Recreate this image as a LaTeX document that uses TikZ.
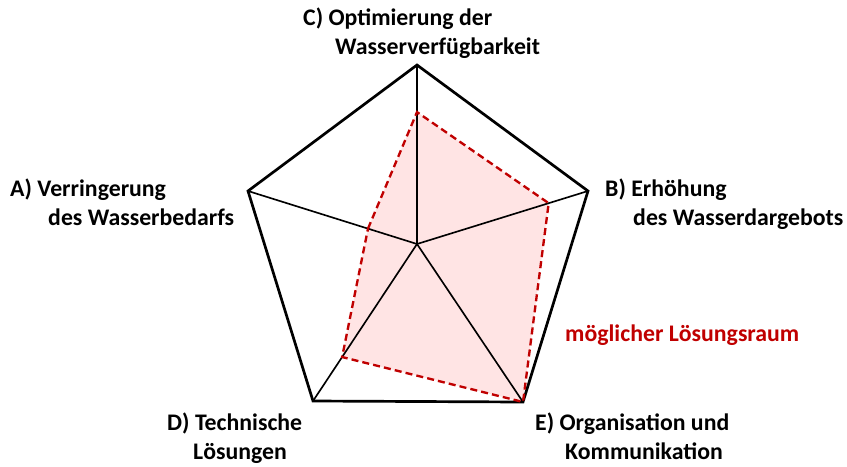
\documentclass[tikz,border=0pt]{standalone}
\usepackage{fontspec}
\setmainfont{Carlito}
\usepackage{xcolor}
\usetikzlibrary{calc}
\definecolor{dunkelrot}{RGB}{192,0,0}
\definecolor{rosa}{RGB}{255,228,228}
\tikzset{
    achse/.style={line width=1.4pt},
    rahmen/.style={line width=2.3pt, line join=miter},
    raum/.style={draw=dunkelrot, fill=rosa, line width=2pt, dash pattern=on 6pt off 3.5pt},
    beschr/.style={anchor=base west, inner sep=0pt, align=left, font=\fontsize{20.3}{24}\selectfont\bfseries}
}
% #1 Kennbuchstabe, #2 erste Zeile, #3 zweite Zeile, #4 Einzug in px
\newcommand{\zweizeilig}[4]{#1\ #2\\\hspace*{#4\dimexpr0.03cm\relax}#3}

\begin{document}
\begin{tikzpicture}[x=0.03cm, y=-0.03cm]
\useasboundingbox (0,0) rectangle (847,466);
\coordinate (M) at (417,244);
\foreach \x/\y/\p in {248/191/A, 588/191/B, 417/65/C, 313/401/D, 523/402/E}{
    \coordinate (\p) at (\x,\y);
}
% Loesungsraum
\coordinate (a) at ($(M)!0.29!(A)$);
\coordinate (b) at ($(M)!0.77!(B)$);
\coordinate (c) at ($(M)!0.737!(C)$);
\coordinate (d) at ($(M)!0.72!(D)$);
\coordinate (e) at (E);
\fill[rosa] (a)--(c)--(b)--(e)--(d)--cycle;
\foreach \p in {A,B,C,D,E}{
    \draw[achse] (M)--(\p);
}
\draw[rahmen] (A)--(C)--(B)--(E)--(D)--cycle;
\draw[raum, fill=none] (a)--(c)--(b)--(e)--(d)--cycle;
% Beschriftungen (Anker = Grundlinie der letzten Zeile)
\node[beschr] (lc) at (303,54) {\zweizeilig{C)}{Optimierung der}{Wasserverfügbarkeit}{32}};
\node[beschr] (la) at (10,225) {\zweizeilig{A)}{Verringerung}{des Wasserbedarfs}{38}};
\node[beschr] (lb) at (605,225) {\zweizeilig{B)}{Erhöhung}{des Wasserdargebots}{28}};
\node[beschr] (ld) at (167,459) {\zweizeilig{D)}{Technische}{Lösungen}{26}};
\node[beschr] (le) at (535,459) {\zweizeilig{E)}{Organisation und}{Kommunikation}{30}};
\node[beschr, text=dunkelrot] (lr) at (565,341) {möglicher Lösungsraum};
\end{tikzpicture}
\end{document}
